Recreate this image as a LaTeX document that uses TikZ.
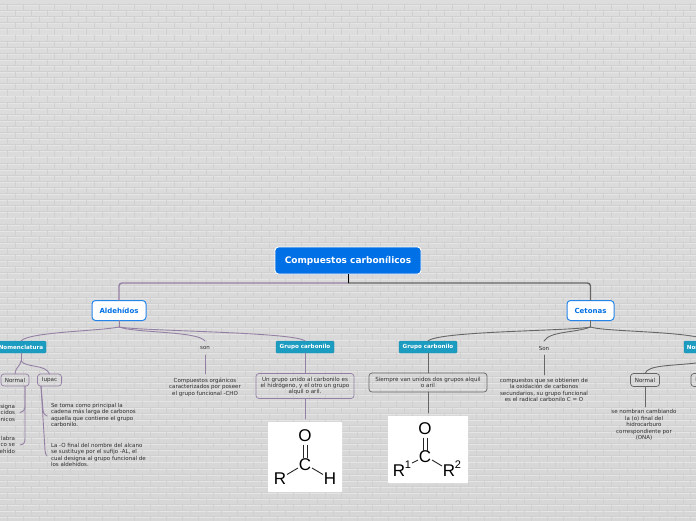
\documentclass[tikz,border=0pt]{standalone}
\usepackage{fontspec}
\setmainfont{DejaVu Sans}
\newfontfamily\molfont{Liberation Sans}
\definecolor{rootblue}{HTML}{0070E6}
\definecolor{teal1}{HTML}{1B9CC0}
\definecolor{purp}{HTML}{9480A4}
\definecolor{greyl}{HTML}{666666}
\definecolor{brickbase}{HTML}{DDDDDD}
\definecolor{brickdark}{HTML}{D0D0D0}
\definecolor{bricklight}{HTML}{E5E5E5}
\definecolor{txt}{HTML}{2E2E2E}
\tikzset{
  every node/.style={inner sep=0pt,outer sep=0pt},
  rootbox/.style={draw=white,line width=.9pt,fill=rootblue,rounded corners=3.5pt,text=white,font=\fontsize{9}{11}\selectfont\bfseries,align=center},
  mainbox/.style={draw=rootblue!85!white,line width=1pt,fill=white,rounded corners=3.5pt,text=rootblue,font=\fontsize{7}{9}\selectfont\bfseries,align=center},
  tealbox/.style={fill=teal1,draw=teal1!85!black,line width=.3pt,rounded corners=1pt,text=white,font=\fontsize{5.6}{7}\selectfont\bfseries,align=center},
  purpbox/.style={draw=purp,line width=.7pt,rounded corners=3pt,text=txt,font=\fontsize{5.6}{6.4}\selectfont,align=center},
  greybox/.style={draw=greyl,line width=.7pt,rounded corners=3pt,text=txt,font=\fontsize{5.6}{6.4}\selectfont,align=center},
  plain/.style={text=txt,font=\fontsize{5.5}{6.5}\selectfont,align=center},
  plainl/.style={text=txt,font=\fontsize{5.5}{6.5}\selectfont,align=left,anchor=north west},
  plainr/.style={text=txt,font=\fontsize{5.5}{6.5}\selectfont,align=right,anchor=north east},
  picbox/.style={fill=white,rounded corners=.5pt},
  mol/.style={text=black,font=\fontsize{17}{17}\molfont},
  molsup/.style={text=black,font=\fontsize{11}{11}\molfont},
  bond/.style={draw=black!85,line width=.9pt},
  pl/.style={draw=purp,line width=.9pt,line cap=round},
  plt/.style={draw=purp,line width=1.4pt},
  gl/.style={draw=greyl,line width=.9pt,line cap=round},
  glt/.style={draw=greyl,line width=1.4pt},
}
\begin{document}
\begin{tikzpicture}[x=1pt,y=-1pt]
\useasboundingbox (0,0) rectangle (696,520);
\clip (0,0) rectangle (696,520);
% brick wall
\shade[top color=brickbase,bottom color=brickbase!97!black] (0,0) rectangle (696,520);
\foreach \r in {0,...,85}{
  \pgfmathsetmacro{\yy}{4.3+6.1*\r}
  \pgfmathsetmacro{\yn}{\yy+6.1}
  \pgfmathsetmacro{\yh}{\yy+.8}
  \draw[brickdark,line width=.6pt] (0,\yy) -- (696,\yy);
  \draw[bricklight,line width=.4pt] (0,\yh) -- (696,\yh);
  \pgfmathtruncatemacro{\odd}{mod(\r,2)}
  \pgfmathsetmacro{\off}{\odd==0 ? 7 : 15}
  \foreach \c in {-1,...,44}{
    \pgfmathsetmacro{\xx}{\off+15.9*\c}
    \draw[brickdark,line width=.6pt] (\xx,\yy) -- (\xx,\yn);
  }
}
% nodes
\node[rootbox,minimum width=146pt,minimum height=27pt] (root) at (348,260.5) {Compuestos carbonílicos};
\node[mainbox,minimum width=54pt,minimum height=20pt] (ald) at (119,310.5) {Aldehídos};
\node[mainbox,minimum width=47pt,minimum height=20pt] (cet) at (590.5,310.5) {Cetonas};
\node[tealbox,minimum width=50pt,minimum height=12pt] (nomA) at (21,347) {Nomenclatura};
\node[tealbox,minimum width=58pt,minimum height=12pt] (grA) at (305,347) {Grupo carbonilo};
\node[tealbox,minimum width=58pt,minimum height=12pt] (grB) at (428,347) {Grupo carbonilo};
\node[tealbox,minimum width=50pt,minimum height=12pt] (nomB) at (709,347) {Nomenclatura};
\node[plain] (sonA) at (205,348) {son};
\node[plain] (sonB) at (544,348) {Son};
\node[purpbox,minimum width=28pt,minimum height=12pt] (normA) at (15,380) {Normal};
\node[purpbox,minimum width=24pt,minimum height=12pt] (iupA) at (49.5,380) {Iupac};
\node[purpbox,minimum width=98pt,minimum height=25pt] (unA) at (305,386) {Un grupo unido al carbonilo es\\el hidrógeno, y el otro un grupo\\alquil o aril.};
\node[greybox,minimum width=118pt,minimum height=19pt] (siB) at (428,382.5) {Siempre van unidos dos grupos alquil\\o aril};
\node[greybox,minimum width=29pt,minimum height=13pt] (normB) at (645,380) {Normal};
\node[greybox,minimum width=24pt,minimum height=13pt] (iupB) at (703,380) {Iupac};
\node[plain,anchor=north] (txA) at (205,378) {Compuestos orgánicos\\caracterizados por poseer\\el grupo funcional -CHO};
\node[plain,anchor=north] (txB) at (544,378) {compuestos  que se obtienen de\\la oxidación de carbonos\\secundarios, su grupo funcional\\es el radical carbonilo C = O};
\node[plain,anchor=north] (txC) at (644,409.5) {se nombran cambiando\\la (o) final del\\hidrocarburo\\correspondiente por\\(ONA)};
\node[plainr] (f1) at (15,404) {signa\\cidos\\anicos};
\node[plainr] (f2) at (15,436) {labra\\co se\\ehído};
\node[plainl] (t1) at (51,403) {Se toma como principal la\\cadena más larga de carbonos\\aquella que contiene el grupo\\carbonilo.};
\node[plainl] (t2) at (51,443) {La -O final del nombre del alcano\\se sustituye por el sufijo -AL, el\\cual designa al grupo funcional de\\los aldehídos.};
\node[picbox,minimum width=74pt,minimum height=70pt] (picA) at (305,457) {};
\node[picbox,minimum width=80pt,minimum height=67pt] (picB) at (428,449.5) {};
% free ends
\coordinate (rootJ) at (348,283);
\coordinate (f1e) at (20,412.5);
\coordinate (f2e) at (20,445);
\coordinate (t1e) at (47,416);
\coordinate (t2e) at (47,456);
\coordinate (aldJ) at (119,327);
\coordinate (cetJ) at (590.5,327);
\coordinate (nomJ) at (21,361);
% connectors
\draw[plt,rounded corners=3pt] (rootJ) -| (ald.north);
\draw[glt,rounded corners=3pt] (rootJ) -| (cet.north);
\draw[black,line width=.7pt] (root.south) -- (rootJ);
\draw[pl] (ald.south) -- (aldJ);
\draw[pl] (cet.south) -- (cetJ);
\draw[pl] (aldJ) .. controls (100,331) and (28,332) .. (nomA.north);
\draw[pl] (aldJ) .. controls (135,333) and (198,331) .. (205,341);
\draw[pl] (aldJ) .. controls (140,331) and (296,332) .. (grA.north);
\draw[pl] (nomA.south) -- (nomJ);
\draw[pl] (nomJ) .. controls (20,367) and (16,366) .. (normA.north);
\draw[pl] (nomJ) .. controls (26,368) and (46,364) .. (iupA.north);
\draw[pl] (205,355) -- (205,374);
\draw[pl] (grA.south) -- (unA.north);
\draw[pl] (unA.south) -- (305,419);
\draw[pl] (25,386) -- (25,406) .. controls (25,410) and (24,411) .. (f1e);
\draw[pl] (25,386) -- (25,438) .. controls (25,443) and (24,444) .. (f2e);
\draw[pl] (41,386) -- (43,410) .. controls (43.5,414) and (45,415) .. (t1e);
\draw[pl] (41,386) -- (45,450) .. controls (45.5,454) and (46,455) .. (t2e);
\draw[gl] (cet.south) -- (cetJ);
\draw[gl] (cetJ) .. controls (570,331) and (438,331) .. (grB.north);
\draw[gl] (cetJ) .. controls (575,333) and (550,331) .. (544,341);
\draw[gl] (cetJ) .. controls (605,332) and (695,331) .. (nomB.north);
\draw[gl] (696,363) .. controls (670,366) and (648,365) .. (normB.north);
\draw[gl] (544,355) -- (544,375);
\draw[gl] (grB.south) -- (siB.north);
\draw[gl] (siB.south) -- (428,413);
\draw[gl] (normB.south) -- (645,407);
% molecule A
\node[mol] (oA) at (305,436) {O};
\node[mol] (cA) at (305,465) {C};
\node[mol] (rA) at (280,479) {R};
\node[mol] (hA) at (330,479) {H};
\draw[bond] (303,444.5) -- (303,458);
\draw[bond] (307.5,444.5) -- (307.5,458);
\draw[bond] (298,468) -- (287,474.5);
\draw[bond] (312,468) -- (323,474.5);
% molecule B
\node[mol] (oB) at (425,429) {O};
\node[mol] (cB) at (425,457) {C};
\node[mol] (rB) at (399,471) {R};
\node[molsup] (s1) at (408,465) {1};
\node[mol] (rrB) at (449,471) {R};
\node[molsup] (s2) at (458,465) {2};
\draw[bond] (423,437.5) -- (423,451);
\draw[bond] (427.5,437.5) -- (427.5,451);
\draw[bond] (418,460) -- (412,463);
\draw[bond] (432,460) -- (442,466);
\end{tikzpicture}
\end{document}
